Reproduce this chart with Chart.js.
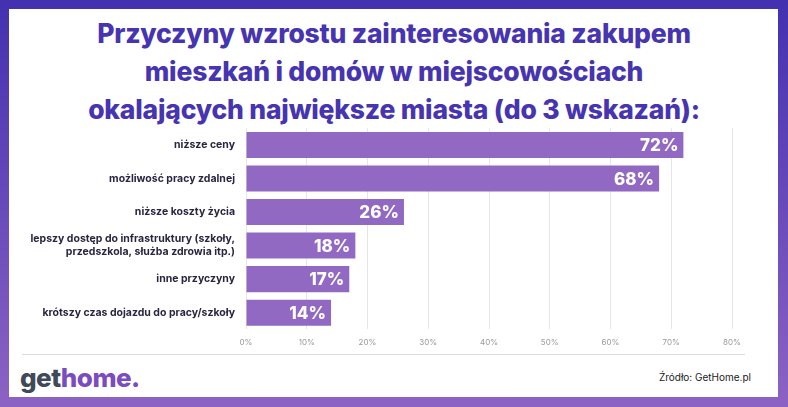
<!DOCTYPE html>
<html><head><meta charset="utf-8">
<script src="https://cdn.jsdelivr.net/npm/chart.js@4"></script>
<style>
html,body{margin:0;padding:0;}
body{width:788px;height:407px;background:linear-gradient(#4331b0,#8c63c4);position:relative;overflow:hidden;font-family:Inter,sans-serif;}
#card{position:absolute;left:9px;top:9px;width:769px;height:388px;background:#fff;}
#title{position:absolute;left:0;top:14px;width:788px;text-align:center;color:#4634b0;font-weight:800;font-size:26.5px;line-height:38px;letter-spacing:-0.2px;}
#wrap{position:absolute;left:10px;top:119px;width:768px;height:242px;}
#sep{position:absolute;left:22px;top:354px;width:723px;height:1px;background:#ddd;}
#logo{position:absolute;left:20px;top:362px;font-size:26px;font-weight:800;color:#3e4a59;letter-spacing:-0.5px;}
#logo span{color:#7a4cc0;}
#src{position:absolute;right:37px;top:371px;font-size:10px;color:#222;}
</style></head><body>
<div id="card"></div>
<div id="title">Przyczyny wzrostu zainteresowania zakupem<br>mieszkań i domów w miejscowościach<br>okalających największe miasta (do 3 wskazań):</div>
<div id="wrap"><canvas id="c"></canvas></div>
<div id="sep"></div>
<div id="logo">get<span>home.</span></div>
<div id="src">Źródło: GetHome.pl</div>
<script>
const categories = [
  "niższe ceny",
  "możliwość pracy zdalnej",
  "niższe koszty życia",
  ["lepszy dostęp do infrastruktury (szkoły,", "przedszkola, służba zdrowia itp.)"],
  "inne przyczyny",
  "krótszy czas dojazdu do pracy/szkoły"
];
const values = [72, 68, 26, 18, 17, 14];

const barLabels = {
  id: "barLabels",
  afterDatasetsDraw(chart) {
    const ctx = chart.ctx;
    const meta = chart.getDatasetMeta(0);
    ctx.save();
    ctx.fillStyle = "#fff";
    ctx.font = "800 17px Inter";
    ctx.textAlign = "right";
    ctx.textBaseline = "middle";
    meta.data.forEach((bar, i) => {
      ctx.fillText(values[i] + "%", bar.x - 5, bar.y + 1);
    });
    ctx.restore();
  }
};

new Chart(document.getElementById("c"), {
  type: "bar",
  data: {
    labels: categories,
    datasets: [{ data: values, backgroundColor: "#9169c2", categoryPercentage: 0.8, barPercentage: 0.97 }]
  },
  options: {
    indexAxis: "y",
    responsive: true,
    maintainAspectRatio: false,
    animation: false,
    layout: { padding: { top: 4, right: 46, bottom: 6, left: 0 } },
    plugins: { legend: { display: false }, tooltip: { enabled: false } },
    scales: {
      x: {
        min: 0, max: 80,
        ticks: { stepSize: 10, callback: v => v + "%", color: "#999", font: { size: 8, family: "Inter" }, padding: 8 },
        grid: { color: "#e6e6e6", drawTicks: false },
        border: { display: false }
      },
      y: {
        ticks: { color: "#2a2540", font: { size: 10.5, weight: "bold", family: "Inter" }, padding: 3 },
        grid: { display: false },
        border: { display: false },
        afterFit(scale) { scale.width = 236; }
      }
    }
  },
  plugins: [barLabels]
});
</script>
</body></html>
